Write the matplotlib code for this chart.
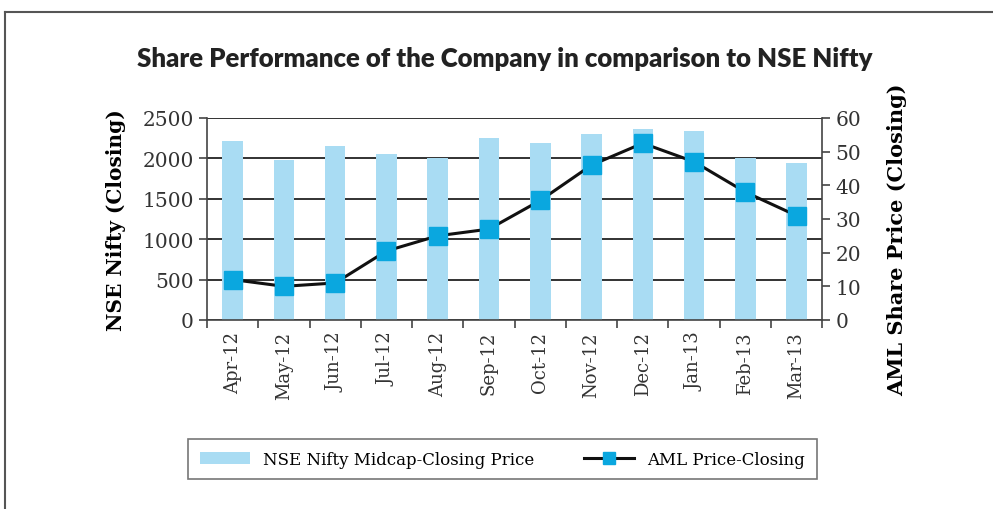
import matplotlib.pyplot as plt
from matplotlib.lines import Line2D
from matplotlib.patches import Patch

months = ["Apr-12", "May-12", "Jun-12", "Jul-12", "Aug-12", "Sep-12",
          "Oct-12", "Nov-12", "Dec-12", "Jan-13", "Feb-13", "Mar-13"]
nifty_midcap = [2210, 1975, 2150, 2060, 2010, 2250, 2190, 2300, 2360, 2340, 2010, 1940]
aml_price = [12, 10, 11, 20.5, 25, 27, 35.5, 46, 52.5, 47, 38, 31]

bar_color = "#a9dcf3"
marker_color = "#0aa7df"
serif = "DejaVu Serif"

fig = plt.figure(figsize=(9.93, 5.10), dpi=100)
ax = fig.add_axes([0.2085, 0.3706, 0.6195, 0.3961])

x = range(len(months))
ax.bar(x, nifty_midcap, width=0.4, color=bar_color, zorder=2)
ax.set_ylim(0, 2500)
ax.set_yticks(range(0, 2501, 500))
ax.set_xlim(-0.5, len(months) - 0.5)
ax.yaxis.grid(True, color="#222222", linewidth=1.3, zorder=0)
ax.set_axisbelow(True)

# minor ticks between categories on the x axis
ax.set_xticks(x)
ax.set_xticklabels(months, rotation=90, family=serif, fontsize=13)
ax.set_xticks([i + 0.5 for i in range(-1, len(months))], minor=True)
ax.tick_params(axis="x", which="major", length=0, pad=8)
ax.tick_params(axis="x", which="minor", length=6, width=1.2, color="#444444")
ax.tick_params(axis="y", length=6, width=1.2, color="#444444", labelsize=14.5)
for lab in ax.get_yticklabels():
    lab.set_family(serif)
    lab.set_color("#333333")
for lab in ax.get_xticklabels():
    lab.set_color("#333333")

for side in ["top", "right"]:
    ax.spines[side].set_visible(False)
for side in ["left", "bottom"]:
    ax.spines[side].set_color("#444444")
    ax.spines[side].set_linewidth(1.2)

ax.set_ylabel("NSE Nifty (Closing)", family=serif, fontweight="bold", fontsize=14.5)
ax.yaxis.set_label_coords(-0.132, 0.5)

ax2 = ax.twinx()
ax2.plot(x, aml_price, color="#111111", linewidth=2.2, marker="s",
         markersize=13, markerfacecolor=marker_color, markeredgecolor=marker_color,
         zorder=3)
ax2.set_ylim(0, 60)
ax2.set_yticks(range(0, 61, 10))
ax2.tick_params(axis="y", length=6, width=1.2, color="#444444", labelsize=14.5)
for lab in ax2.get_yticklabels():
    lab.set_family(serif)
    lab.set_color("#333333")
for side in ["top", "left", "bottom"]:
    ax2.spines[side].set_visible(False)
ax2.spines["right"].set_color("#444444")
ax2.spines["right"].set_linewidth(1.2)
ax2.set_ylabel("AML Share Price (Closing)", family=serif, fontweight="bold", fontsize=15)
ax2.yaxis.set_label_coords(1.106, 0.40)

fig.text(0.508, 0.885, "Share Performance of the Company in comparison to NSE Nifty",
         ha="center", va="center", family="Lato", fontweight="heavy",
         fontsize=18.5, color="#222222")

handles = [Patch(facecolor=bar_color, edgecolor="none"),
           Line2D([], [], color="#111111", linewidth=2.2, marker="s", markersize=9,
                  markerfacecolor=marker_color, markeredgecolor=marker_color)]
leg = fig.legend(handles, ["NSE Nifty Midcap-Closing Price", "AML Price-Closing"],
                 loc="center", bbox_to_anchor=(0.506, 0.098), ncol=2,
                 prop={"family": serif, "size": 12}, frameon=True, fancybox=False,
                 borderpad=0.7, columnspacing=3.0, handlelength=3.0)
leg.get_frame().set_edgecolor("#555555")
leg.get_frame().set_linewidth(1.2)
leg.get_frame().set_facecolor("white")

# outer page frame (top and left lines)
fig.add_artist(Line2D([5 / 993, 1.0], [1 - 13 / 510, 1 - 13 / 510],
                      color="#555555", linewidth=1.5))
fig.add_artist(Line2D([5 / 993, 5 / 993], [0.0, 1 - 13 / 510],
                      color="#555555", linewidth=1.5))

plt.savefig("out.png", dpi=100)
